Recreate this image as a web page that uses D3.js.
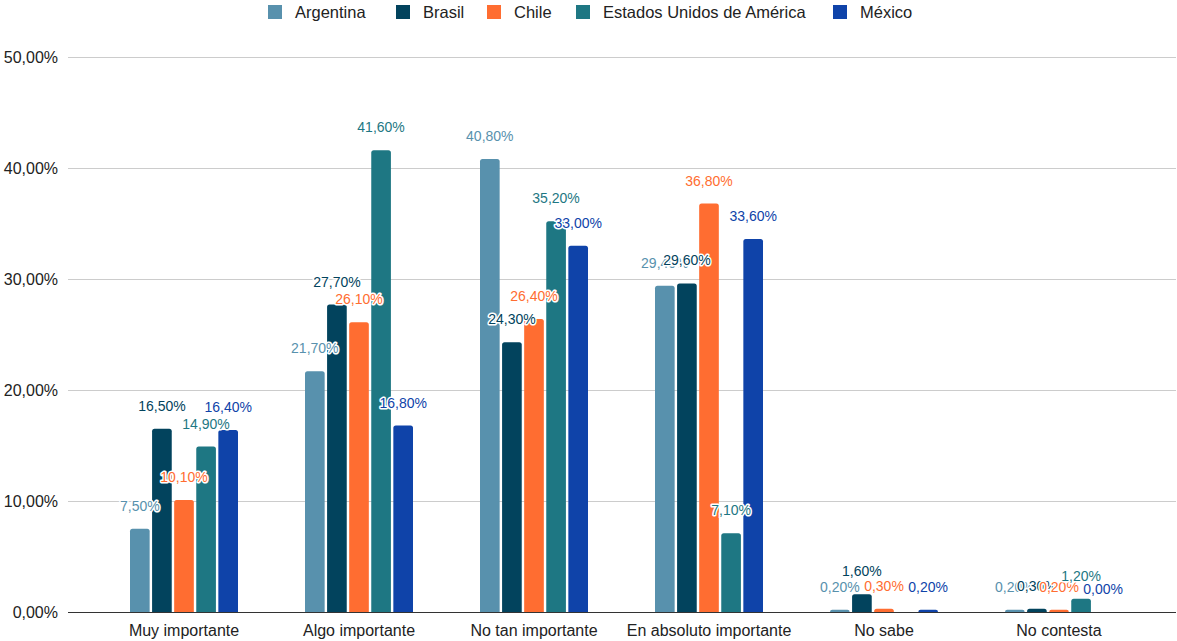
<!DOCTYPE html>
<html><head><meta charset="utf-8">
<script src="https://cdn.jsdelivr.net/npm/d3@7"></script>
<style>body{margin:0;background:#fff;}svg{display:block;font-family:"Liberation Sans", Arial, sans-serif;}</style>
</head><body><svg id="c" width="1177" height="641"></svg>
<script>
const categories = ["Muy importante","Algo importante","No tan importante","En absoluto importante","No sabe","No contesta"];
const seriesNames = ["Argentina","Brasil","Chile","Estados Unidos de América","México"];
const argentina = [7.5, 21.7, 40.8, 29.4, 0.2, 0.2];
const brasil = [16.5, 27.7, 24.3, 29.6, 1.6, 0.3];
const chile = [10.1, 26.1, 26.4, 36.8, 0.3, 0.2];
const eua = [14.9, 41.6, 35.2, 7.1, null, 1.2];
const mexico = [16.4, 16.8, 33.0, 33.6, 0.2, 0.0];
const yTicks = [0, 10, 20, 30, 40, 50];
const colors = ["#5891ad","#02435d","#ff6d31","#1e7783","#0f43a9"];
const seriesValues = [argentina, brasil, chile, eua, mexico];
const FONT = '"Liberation Sans", Arial, sans-serif';

const svg = d3.select("#c");
const y = d3.scaleLinear().domain([0,50]).range([612,57]);
const x = d3.scaleBand().domain(categories).range([96.5,1146.5]).padding(0);
const xs = d3.scaleBand().domain(seriesNames).range([-54,54]).paddingInner(0.11);
const fmt = v => d3.format(".2f")(v).replace(".", ",") + "%";

// gridlines
const yAxis = d3.axisLeft(y).tickValues(yTicks).tickSize(-(1176-68)).tickPadding(10).tickFormat(fmt);
const ga = svg.append("g").attr("transform","translate(68,0)").call(yAxis);
ga.select(".domain").remove();
ga.selectAll(".tick line").attr("stroke","#cccccc").attr("stroke-width",1);
ga.selectAll(".tick text").attr("fill","#222").attr("font-size",16).attr("font-family",FONT).attr("x",-10);

function barPath(x0, y0, w, h, r){
  if (h <= 0) return "";
  r = Math.min(r, h, w/2);
  return `M${x0},${y0+h}V${y0+r}Q${x0},${y0} ${x0+r},${y0}H${x0+w-r}Q${x0+w},${y0} ${x0+w},${y0+r}V${y0+h}Z`;
}

const bw = xs.bandwidth();
seriesNames.forEach((s, si) => {
  const g = svg.append("g");
  seriesValues[si].forEach((v, ci) => {
    if (v === null) return;
    const cx = x(categories[ci]) + x.bandwidth()/2 + xs(s);
    const top = y(v);
    g.append("path").attr("d", barPath(cx, top, bw, y(0)-top, 2.5)).attr("fill", colors[si]);
  });
});

// zero line
svg.append("line").attr("x1",68).attr("x2",1176).attr("y1",y(0)+0.5).attr("y2",y(0)+0.5).attr("stroke","#333").attr("stroke-width",1.2);

// x labels
const xa = d3.axisBottom(x).tickSize(0).tickPadding(13);
const gx = svg.append("g").attr("transform",`translate(0,${y(0)})`).call(xa);
gx.select(".domain").remove();
gx.selectAll(".tick text").attr("fill","#222").attr("font-size",16).attr("font-family",FONT);

// data labels
seriesNames.forEach((s, si) => {
  const g = svg.append("g");
  seriesValues[si].forEach((v, ci) => {
    if (v === null) return;
    const cx = x(categories[ci]) + x.bandwidth()/2 + xs(s) + bw/2;
    g.append("text").attr("x", cx).attr("y", y(v) - 18)
      .attr("text-anchor","middle").attr("font-size",14).attr("font-family",FONT)
      .attr("fill", colors[si]).attr("stroke","#fff").attr("stroke-width",3)
      .attr("stroke-linejoin","round").attr("paint-order","stroke")
      .text(fmt(v));
  });
});

// legend
const legendX = [268, 396, 487, 576, 833];
const lg = svg.append("g");
seriesNames.forEach((s, si) => {
  lg.append("rect").attr("x", legendX[si]).attr("y", 5).attr("width", 14).attr("height", 14).attr("fill", colors[si]);
  lg.append("text").attr("x", legendX[si]+27).attr("y", 18).attr("font-size",16.5).attr("font-family",FONT).attr("fill","#222").text(s);
});
</script></body></html>
